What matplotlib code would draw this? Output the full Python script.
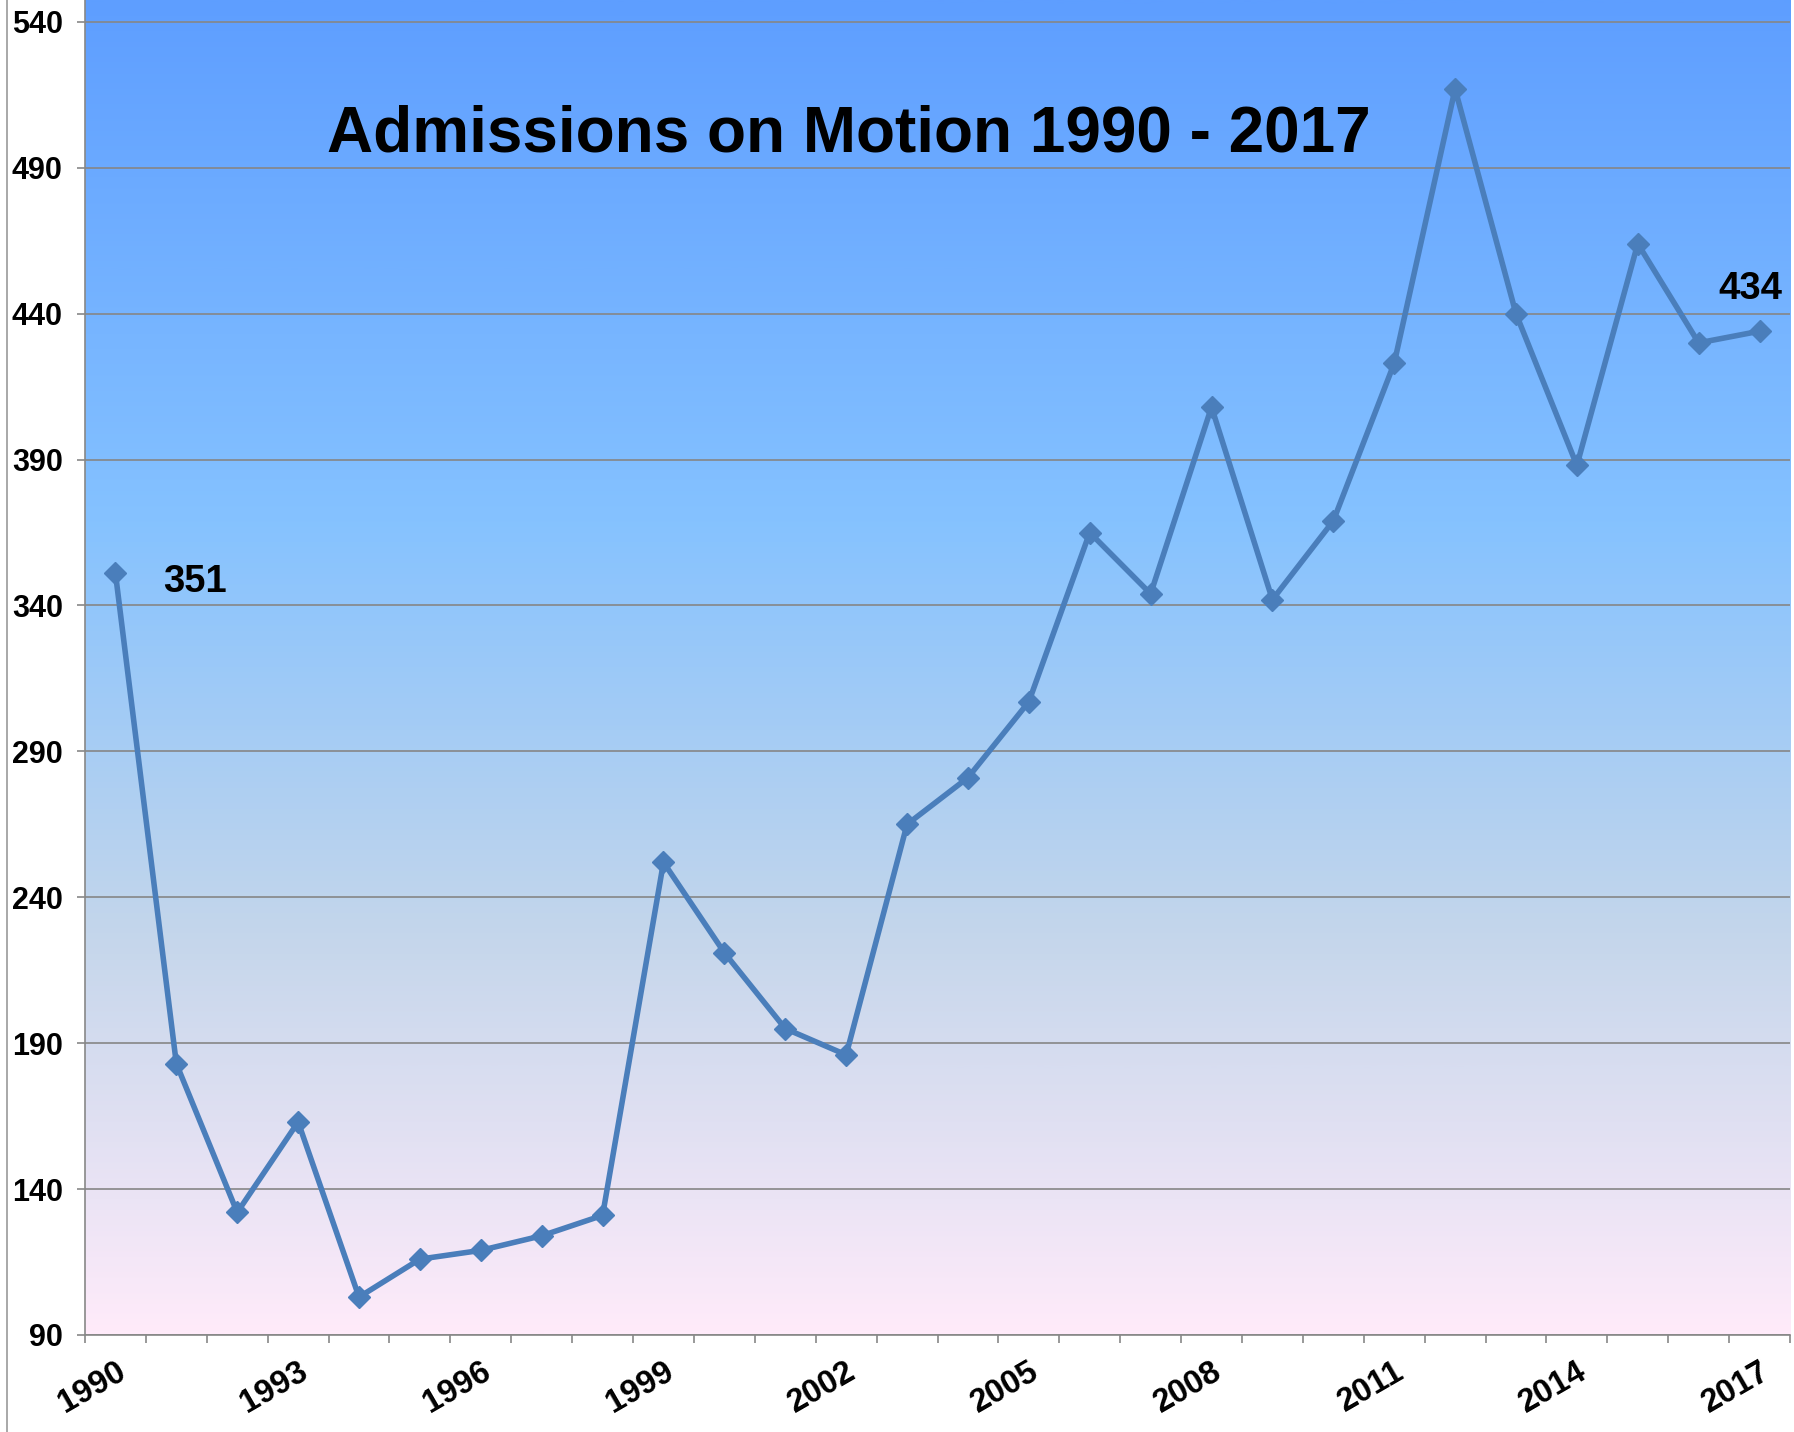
import matplotlib
matplotlib.use("Agg")
import matplotlib.pyplot as plt
import numpy as np
from matplotlib.colors import LinearSegmentedColormap
from matplotlib.lines import Line2D

years = list(range(1990, 2018))
admissions = [351, 183, 132, 163, 103, 116, 119, 124, 131, 252, 221, 195, 186, 265,
              281, 307, 365, 344, 408, 342, 369, 423, 517, 440, 388, 464, 430, 434]
yticks = list(range(90, 541, 50))
label_every = 3

plt.rcParams['font.family'] = ['Liberation Sans', 'DejaVu Sans']
plt.rcParams['font.weight'] = 'bold'

W, H = 1794, 1432
fig = plt.figure(figsize=(W / 100, H / 100), dpi=100)
ax = fig.add_axes([85 / W, 1 - 1335 / H, (1790 - 85) / W, 1335 / H])

# gradient background (Excel "Daybreak"-like)
cmap = LinearSegmentedColormap.from_list(
    "daybreak",
    [(0.0, "#5E9EFF"), (0.39, "#85C2FF"), (0.70, "#C4D6EB"), (1.0, "#FFEBFA")])
grad = np.linspace(0, 1, 512).reshape(-1, 1)
ax.imshow(grad, cmap=cmap, aspect='auto', extent=[0, 1, 0, 1],
          transform=ax.transAxes, zorder=0)

x = np.arange(len(years))
ax.plot(x, admissions, color="#4A7EBB", lw=4.0, marker='D', ms=11.5,
        markeredgecolor="#4A7EBB", zorder=3)

ax.set_xlim(-0.5, len(years) - 0.5)
ax.set_ylim(90, 547.5)

ax.set_yticks(yticks)
ax.set_yticklabels([str(v) for v in yticks], fontsize=22, fontweight='bold')
ax.yaxis.grid(True, color="#868686", lw=1.2, zorder=1)
ax.set_axisbelow(False)
for gl in ax.get_ygridlines():
    gl.set_zorder(1)

ax.set_xticks(x[::label_every])
ax.set_xticklabels([str(y) for y in years[::label_every]], fontsize=23.5,
                   fontweight='bold', rotation=30, ha='right', va='top',
                   rotation_mode='anchor')
ax.set_xticks(np.arange(-0.5, len(years)), minor=True)
ax.tick_params(axis='x', which='major', length=0, pad=15)
ax.tick_params(axis='x', which='minor', length=6, width=1.2, color="#888888", direction='out')
ax.tick_params(axis='y', length=6, width=1.2, color="#888888", pad=10)

for s in ['top', 'right']:
    ax.spines[s].set_visible(False)
for s in ['left', 'bottom']:
    ax.spines[s].set_color("#888888")
    ax.spines[s].set_linewidth(1.2)

ax.text(0.448, 0.899, "Admissions on Motion 1990 - 2017", transform=ax.transAxes,
        ha='center', va='center', fontsize=46, fontweight='bold', color='black', zorder=5)

ax.annotate(str(admissions[0]), xy=(x[0], admissions[0]), xytext=(57, -6.5),
            textcoords='offset points', ha='center', va='center',
            fontsize=27.5, fontweight='bold', zorder=5)
ax.annotate(str(admissions[-1]), xy=(x[-1], admissions[-1]), xytext=(-6.5, 30.5),
            textcoords='offset points', ha='center', va='center',
            fontsize=27.5, fontweight='bold', zorder=5)

fig.add_artist(Line2D([7 / W, 7 / W], [0, 1], transform=fig.transFigure,
                      color="#999999", lw=1.2))

fig.savefig("out.png", dpi=100, facecolor='white')
